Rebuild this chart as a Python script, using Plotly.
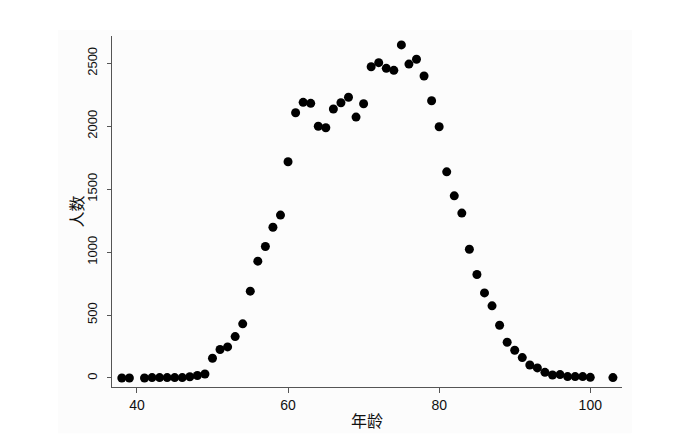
import plotly.graph_objects as go

ages = [38, 39, 41, 42, 43, 44, 45, 46, 47, 48, 49, 50, 51, 52, 53, 54, 55, 56, 57, 58, 59,
        60, 61, 62, 63, 64, 65, 66, 67, 68, 69, 70, 71, 72, 73, 74, 75, 76, 77, 78, 79,
        80, 81, 82, 83, 84, 85, 86, 87, 88, 89, 90, 91, 92, 93, 94, 95, 96, 97, 98, 99,
        100, 103]
counts = [0, 0, 0, 3, 3, 3, 3, 3, 10, 20, 32, 157, 226, 247, 329, 430, 690, 928, 1045, 1198, 1294,
          1718, 2107, 2190, 2182, 2000, 1988, 2137, 2187, 2230, 2073, 2179, 2473, 2505, 2460, 2444, 2646,
          2494, 2532, 2399, 2203, 1996, 1638, 1447, 1310, 1023, 822, 676, 573, 419, 284, 220, 162,
          103, 80, 45, 24, 27, 11, 11, 11, 5, 3]

x_ticks = [40, 60, 80, 100]
y_ticks = [0, 500, 1000, 1500, 2000, 2500]
x_title = "年龄"
y_title = "人数"

fig = go.Figure(go.Scatter(
    x=ages, y=counts, mode="markers",
    marker=dict(color="black", size=9, line=dict(width=0)),
    showlegend=False,
))

x_font = dict(family="Liberation Sans, Arial, sans-serif", size=14, color="#111111")
y_font = dict(family="Liberation Sans, Arial, sans-serif", size=13, color="#111111")

# page body has an 8px default margin, so the figure is sized to fit the 699x439 window
fig.update_layout(
    width=691, height=431,
    margin=dict(l=104, r=77, t=28, b=52, autoexpand=False),
    paper_bgcolor="white",
    plot_bgcolor="rgba(0,0,0,0)",
    xaxis=dict(range=[36.7, 104.2], tickvals=x_ticks, ticktext=[str(v) for v in x_ticks],
               showgrid=False, zeroline=False, showline=True, linecolor="#555555", linewidth=1,
               ticks="outside", ticklen=5, tickcolor="#555555", tickfont=x_font),
    yaxis=dict(range=[-71.6, 2717], tickvals=y_ticks, ticktext=[str(v) for v in y_ticks],
               showgrid=False, zeroline=False, showline=True, linecolor="#555555", linewidth=1,
               ticks="outside", ticklen=4, tickcolor="#555555", tickfont=y_font, tickangle=-90,
               ticklabelstandoff=5),
    shapes=[dict(type="rect", xref="paper", yref="paper", x0=-0.106, x1=1.0196, y0=-0.132, y1=1.017,
                 fillcolor="#fcfcfc", line=dict(width=0), layer="below")],
    annotations=[
        dict(text=x_title, xref="paper", yref="paper", x=0.5, y=0, yshift=-33, xanchor="center",
             yanchor="middle", showarrow=False,
             font=dict(family="Noto Sans CJK SC", size=16, color="#111111")),
        dict(text=y_title, xref="paper", yref="paper", x=0, xshift=-37, y=0.5, textangle=-90,
             xanchor="center", yanchor="middle", showarrow=False,
             font=dict(family="Noto Sans CJK SC", size=16, color="#111111")),
    ],
)

fig.write_html("out.html")
